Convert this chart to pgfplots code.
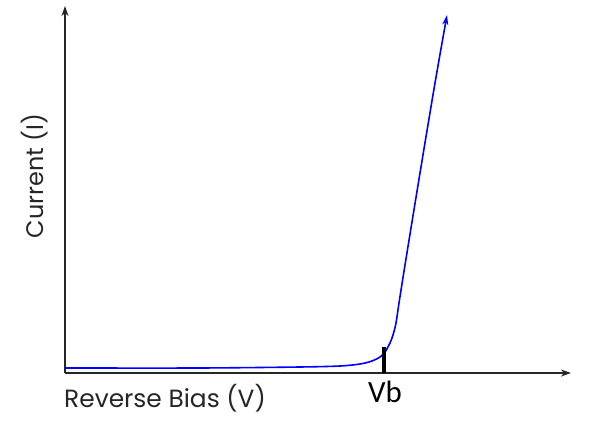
\documentclass[border=0pt]{standalone}
\usepackage{pgfplots}
\pgfplotsset{compat=1.18}
\usepackage{fontspec}
\setmainfont{Poppins}
\newfontfamily\vbfont{Carlito}
\usetikzlibrary{arrows.meta}
\begin{document}
\begin{tikzpicture}
\path[use as bounding box] (0,0) rectangle (591bp,422bp);
\begin{axis}[
  at={(65bp,49bp)}, anchor=south west,
  scale only axis, width=506bp, height=367bp,
  xmin=0, xmax=506, ymin=0, ymax=367,
  axis lines=left,
  axis line style={line width=1.2bp, black!85, -{Stealth[length=10bp,width=7bp,inset=3bp]}},
  xtick=\empty, ytick=\empty,
  clip=false,
]
\addplot[blue, line width=1.6bp, smooth, tension=0.5, -{Stealth[length=10bp,width=6bp,inset=3bp]}] coordinates {
(0,5) (135,5) (235,6) (275,7) (295,9) (307,12) (315,16) (320,21) (325,30) (328,38) (331,50) (334,70) (340,108) (355,200) (370,290) (382,358)
};
\addplot[black, line width=3.2bp] coordinates {(319,0) (319,26)};
\node[anchor=west, text=black!85, font=\fontsize{25}{28}\selectfont, inner sep=0pt] at (axis cs:-1,-25) {Reverse Bias (V)};
\node[rotate=90, text=black!85, font=\fontsize{24}{28}\selectfont, inner sep=0pt] at (axis cs:-30,197) {Current (I)};
\node[font=\vbfont\fontsize{31}{34}\selectfont, inner sep=0pt] at (axis cs:320,-19) {Vb};
\end{axis}
\end{tikzpicture}
\end{document}
